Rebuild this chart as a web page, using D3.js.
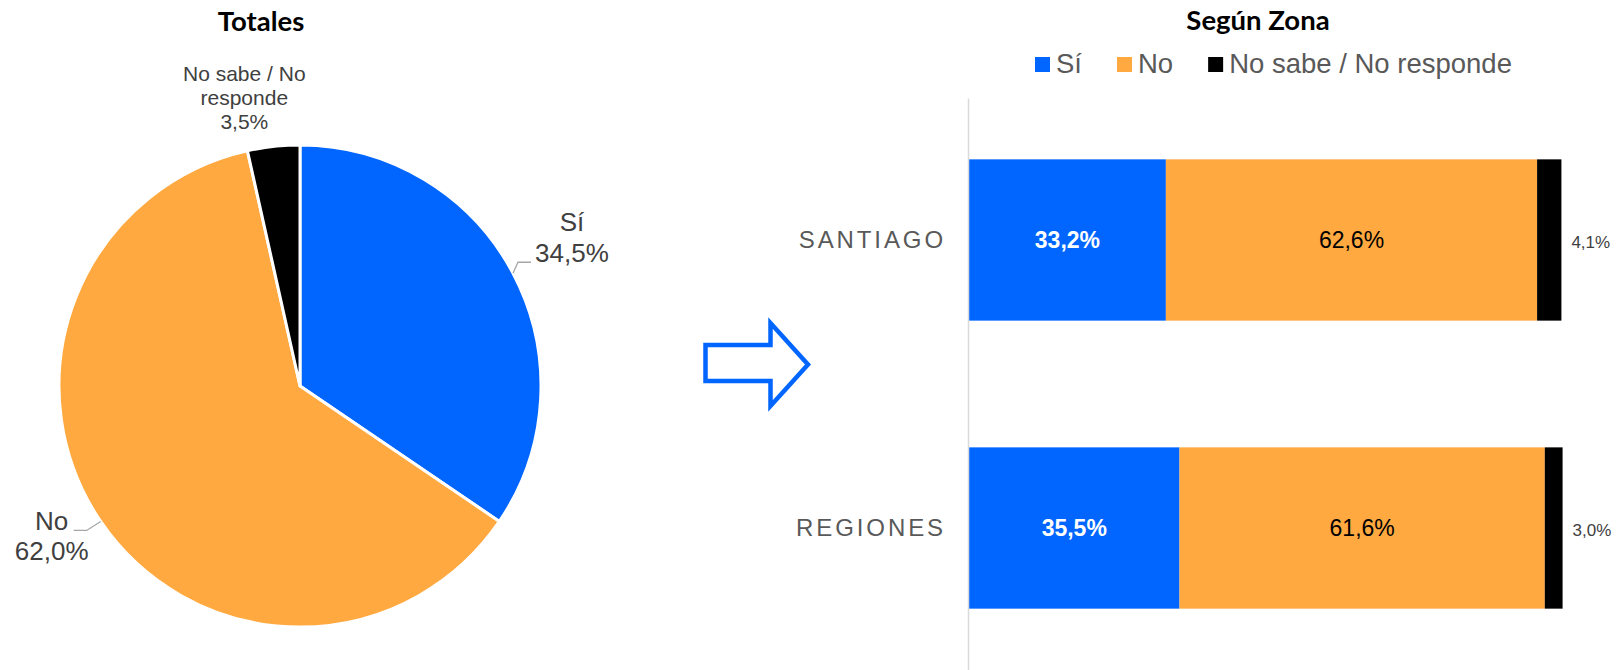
<!DOCTYPE html>
<html>
<head>
<meta charset="utf-8">
<script src="https://cdn.jsdelivr.net/npm/d3@7"></script>
<style>
  html, body { margin: 0; padding: 0; background: #fff; }
  svg { display: block; }
</style>
</head>
<body>
<svg id="chart" width="1618" height="670"></svg>
<script>
// ---------- DATA ----------
const pieCategories = ["Sí", "No", "No sabe / No responde"];
const pieValues = [34.5, 62.0, 3.5];
const pieLabelNames = [["Sí"], ["No"], ["No sabe / No", "responde"]];

const zones = ["SANTIAGO", "REGIONES"];
const seriesNames = ["Sí", "No", "No sabe / No responde"];
const siValues = [33.2, 35.5];
const noValues = [62.6, 61.6];
const nsnrValues = [4.1, 3.0];

const titles = ["Totales", "Según Zona"];

// ---------- STYLE / LAYOUT ----------
const colors = ["#0066FF", "#FFA940", "#000000"];
const fmt = d3.formatLocale({decimal: ",", thousands: ".", grouping: [3], currency: ["", ""]}).format(".1f");
const pct = v => fmt(v) + "%";

const svg = d3.select("#chart");

// ---------- PIE ----------
const cx = 300, cy = 386, R = 241;
const pieData = pieCategories.map((c, i) => ({cat: c, value: pieValues[i], name: pieLabelNames[i], i}));
const pie = d3.pie().sort(null).value(d => d.value).startAngle(0).endAngle(2 * Math.PI);
const arc = d3.arc().innerRadius(0).outerRadius(R);
const arcs = pie(pieData);

const gPie = svg.append("g").attr("transform", `translate(${cx},${cy})`);
gPie.selectAll("path.slice").data(arcs).join("path")
  .attr("class", "slice")
  .attr("d", arc)
  .attr("fill", d => colors[d.data.i])
  .attr("stroke", "#fff")
  .attr("stroke-width", 3)
  .attr("stroke-linejoin", "round");

// label layout (offsets relative to the arc point at mid-angle)
const pieLabelLayout = [
  {elbow: [5, -11], run: 13, textDx: 41, firstBaseline: -31, lineH: 31, size: 26, leader: true},
  {elbow: [-14, 9], run: -13, textDx: -22, firstBaseline: 0, lineH: 29.5, size: 26, leader: true},
  {textAbs: [244.3 - cx, 81 - cy], lineH: 24, size: 21, leader: false}
];

arcs.forEach((a, k) => {
  const L = pieLabelLayout[k];
  const mid = (a.startAngle + a.endAngle) / 2;
  const ax = R * Math.sin(mid), ay = -R * Math.cos(mid);
  const lines = a.data.name.concat([pct(a.data.value)]);
  let tx, ty;
  if (L.leader) {
    const ex = ax + L.elbow[0], ey = ay + L.elbow[1];
    const fx = ex + L.run, fy = ey;
    gPie.append("polyline")
      .attr("points", `${ax},${ay} ${ex},${ey} ${fx},${fy}`)
      .attr("fill", "none").attr("stroke", "#A6A6A6").attr("stroke-width", 1.3);
    tx = fx + L.textDx; ty = fy + L.firstBaseline;
  } else {
    tx = L.textAbs[0]; ty = L.textAbs[1];
  }
  const t = gPie.append("text")
    .attr("text-anchor", "middle")
    .attr("font-family", "'Liberation Sans', Arial, sans-serif")
    .attr("font-size", L.size)
    .attr("fill", "#404040");
  lines.forEach((ln, j) => {
    t.append("tspan").attr("x", tx).attr("y", ty + j * L.lineH).text(ln);
  });
});

// ---------- TITLES ----------
svg.append("text").attr("x", 261).attr("y", 31)
  .attr("text-anchor", "middle")
  .attr("font-family", "Lato, sans-serif").attr("font-weight", 700).attr("font-size", 27.5)
  .attr("fill", "#000").text(titles[0]);
svg.append("text").attr("x", 1258).attr("y", 30)
  .attr("text-anchor", "middle")
  .attr("font-family", "Lato, sans-serif").attr("font-weight", 700).attr("font-size", 27.5)
  .attr("fill", "#000").text(titles[1]);

// ---------- ARROW ----------
const ap = d3.path();
ap.moveTo(705.5, 345); ap.lineTo(770.5, 345); ap.lineTo(770.5, 323);
ap.lineTo(808, 364.5); ap.lineTo(770.5, 406); ap.lineTo(770.5, 381);
ap.lineTo(705.5, 381); ap.closePath();
svg.append("path").attr("d", ap.toString())
  .attr("fill", "none").attr("stroke", colors[0]).attr("stroke-width", 4.5)
  .attr("stroke-linejoin", "miter");

// ---------- STACKED BARS ----------
const barRows = zones.map((z, i) => ({zone: z, "Sí": siValues[i], "No": noValues[i], "No sabe / No responde": nsnrValues[i]}));
const stack = d3.stack().keys(seriesNames);
const stacked = stack(barRows);

const x = d3.scaleLinear().domain([0, 100]).range([969, 1562]);
const y = d3.scaleBand().domain(zones).range([98, 670]).paddingInner(0.44).paddingOuter(0.213);

const gBars = svg.append("g");
stacked.forEach((s, si) => {
  gBars.selectAll(null).data(s).join("rect")
    .attr("x", d => x(d[0]))
    .attr("y", d => y(d.data.zone))
    .attr("width", d => x(d[1]) - x(d[0]))
    .attr("height", y.bandwidth())
    .attr("fill", colors[si]);
});

// in-bar labels
stacked.slice(0, 2).forEach((s, si) => {
  gBars.selectAll(null).data(s).join("text")
    .attr("x", d => (x(d[0]) + x(d[1])) / 2)
    .attr("y", d => y(d.data.zone) + y.bandwidth() / 2)
    .attr("dy", "0.36em")
    .attr("text-anchor", "middle")
    .attr("font-family", "'Liberation Sans', Arial, sans-serif")
    .attr("font-size", 23)
    .attr("font-weight", si === 0 ? 700 : 400)
    .attr("fill", si === 0 ? "#fff" : "#000")
    .text(d => pct(d[1] - d[0]));
});
// outside labels for last series
gBars.selectAll(null).data(stacked[2]).join("text")
  .attr("x", d => x(d[1]) + 10)
  .attr("y", d => y(d.data.zone) + y.bandwidth() / 2 + 2)
  .attr("dy", "0.36em")
  .attr("text-anchor", "start")
  .attr("font-family", "'Liberation Sans', Arial, sans-serif")
  .attr("font-size", 17)
  .attr("fill", "#404040")
  .text(d => pct(d[1] - d[0]));

// axis
const yAxis = d3.axisLeft(y).tickSize(0).tickSizeOuter(0).tickPadding(22);
const gAxis = svg.append("g").attr("transform", "translate(968,0)").call(yAxis);
gAxis.select(".domain").attr("stroke", "#D9D9D9").attr("stroke-width", 1.5);
gAxis.selectAll(".tick text")
  .attr("font-family", "'Liberation Sans', Arial, sans-serif")
  .attr("font-size", 24)
  .attr("letter-spacing", "2.9px")
  .attr("fill", "#595959");

// ---------- LEGEND ----------
const gLeg = svg.append("g");
let lx = 1035;
seriesNames.forEach((n, i) => {
  gLeg.append("rect").attr("x", lx).attr("y", 57).attr("width", 15).attr("height", 15).attr("fill", colors[i]);
  const t = gLeg.append("text").attr("x", lx + 21).attr("y", 73)
    .attr("font-family", "'Liberation Sans', Arial, sans-serif")
    .attr("font-size", 27.5).attr("fill", "#595959").text(n);
  lx += 21 + t.node().getComputedTextLength() + 35;
});
</script>
</body>
</html>
